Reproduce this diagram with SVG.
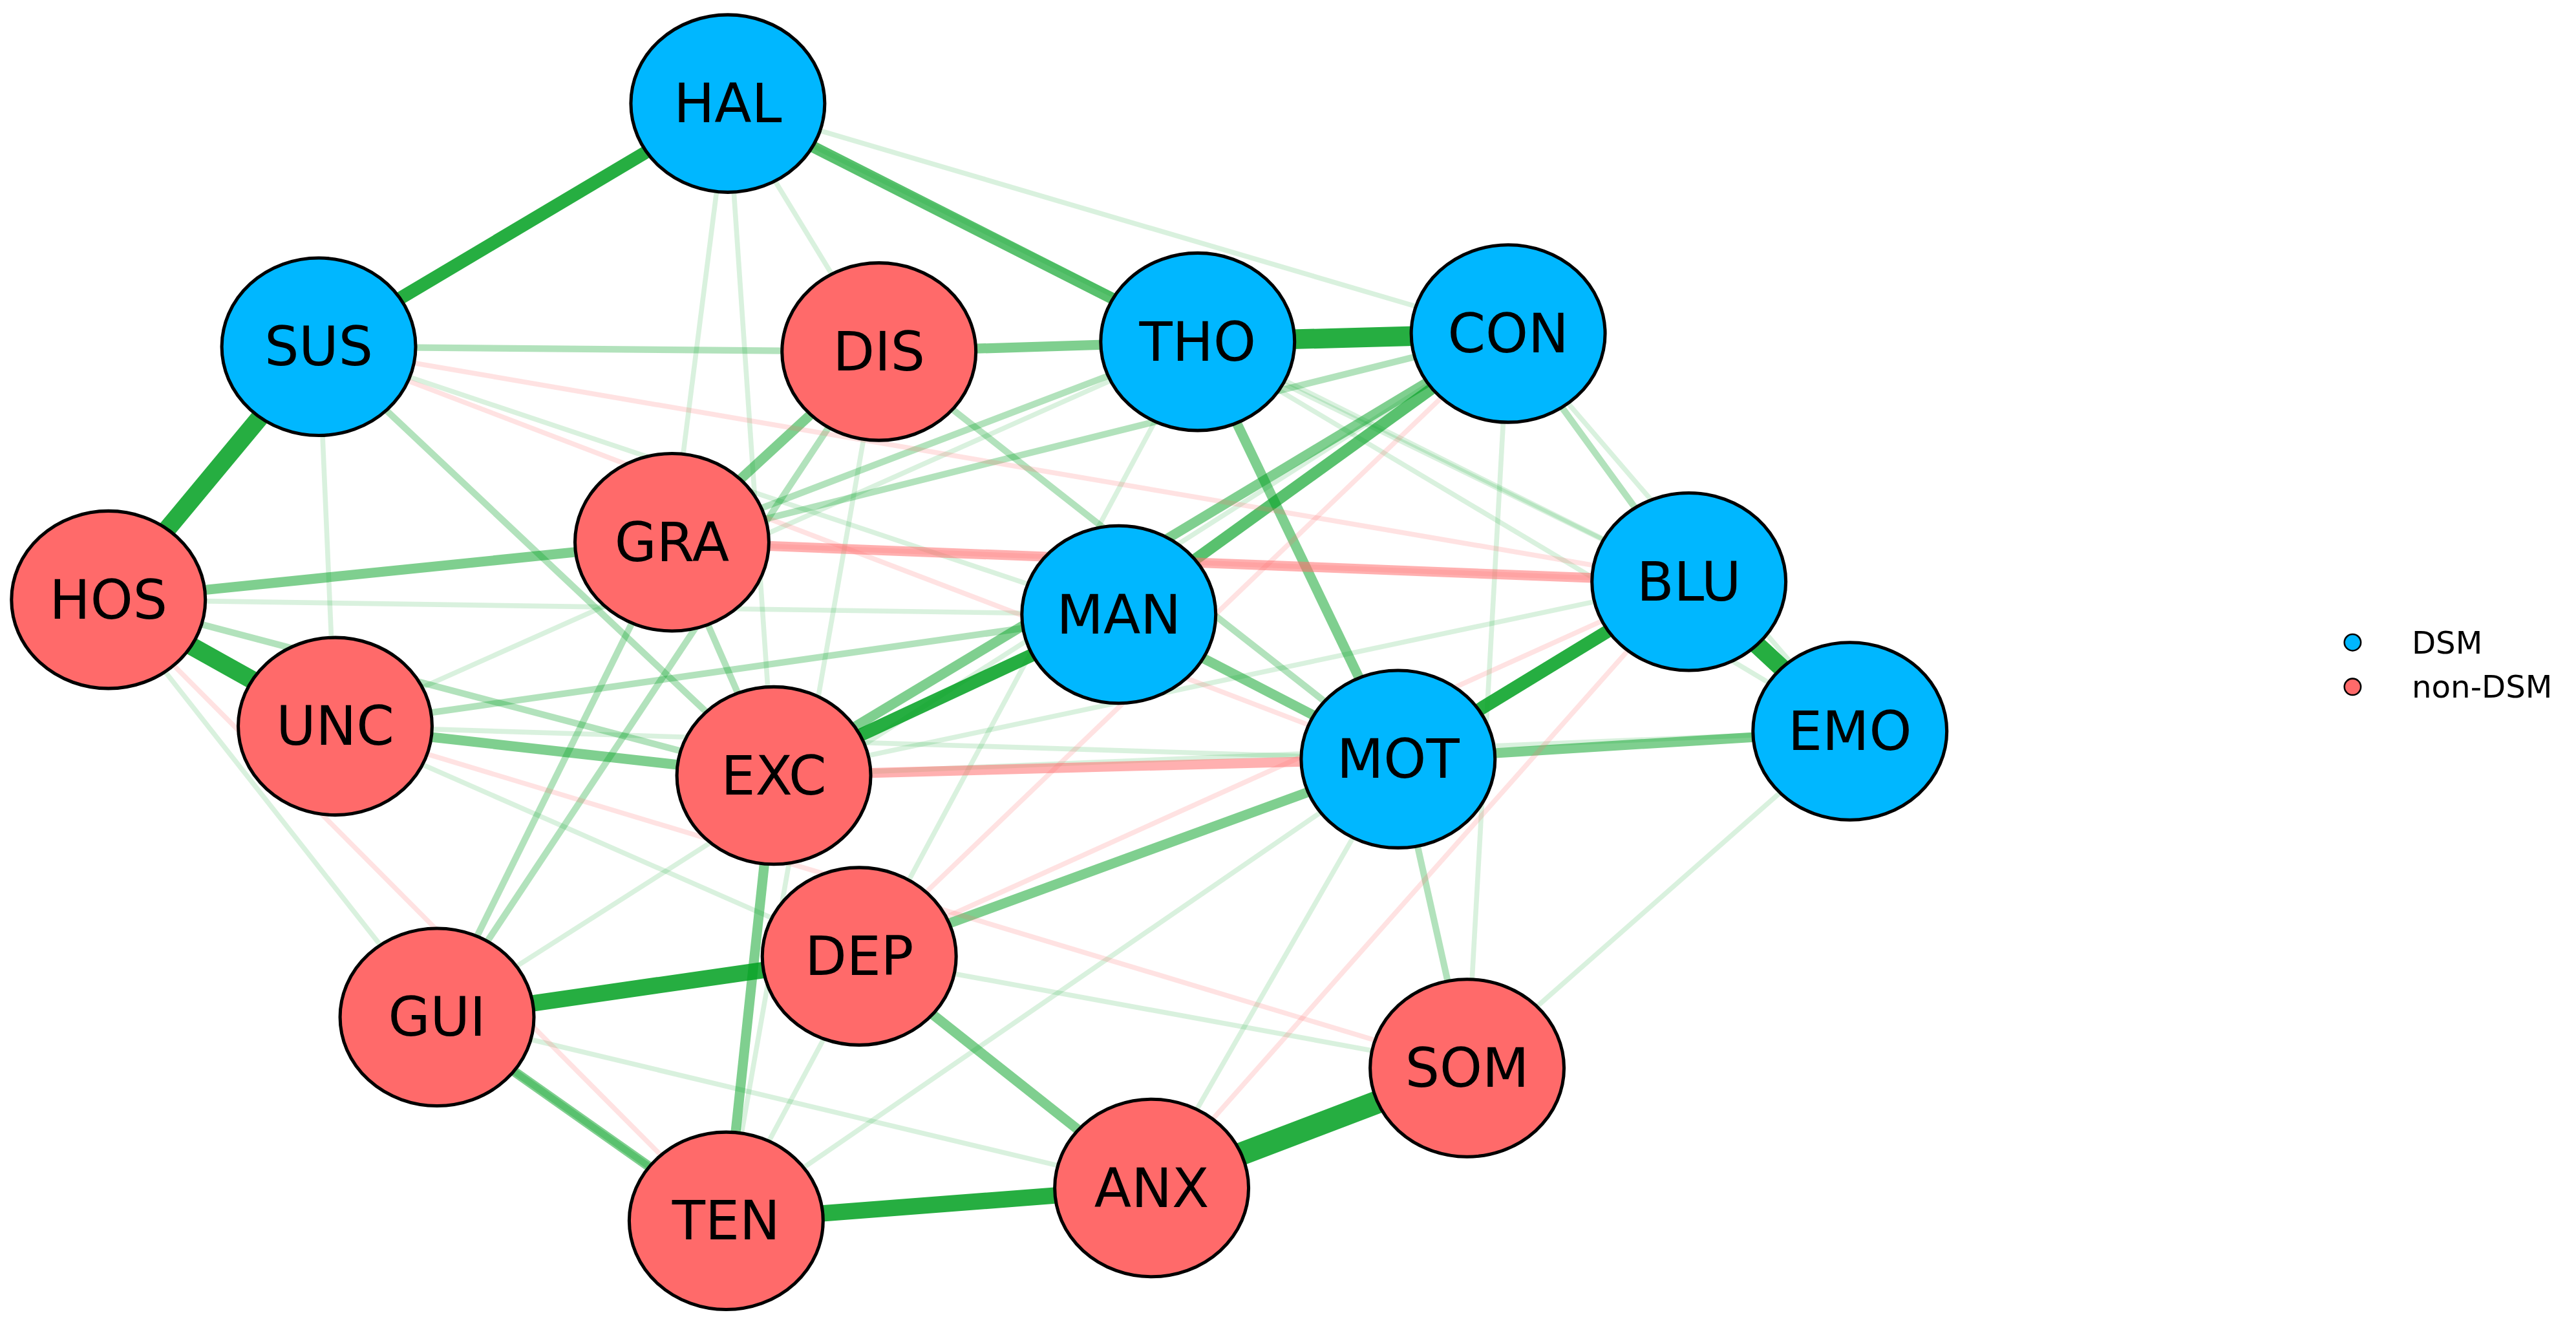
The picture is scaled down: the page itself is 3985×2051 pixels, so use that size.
<svg xmlns="http://www.w3.org/2000/svg" width="3985" height="2051" viewBox="0 0 3985 2051">
<style>
.g{stroke:#00a020;fill:none;stroke-linecap:butt}
.r{stroke:#ff7070;fill:none}
.dsm{fill:#00b7ff;stroke:#000;stroke-width:2}
.non{fill:#ff6a6a;stroke:#000;stroke-width:2}
.lbl{font-family:"DejaVu Sans","Noto Sans",sans-serif;font-size:33px;text-anchor:middle;dominant-baseline:central;fill:#000}
.leg{font-family:"DejaVu Sans","Noto Sans",sans-serif;font-size:19px;fill:#000;dominant-baseline:central}
</style>
<rect width="3985" height="2051" fill="#fff"/>
<g transform="scale(2.5415)">
<g id="edges">
<g class="g" stroke-opacity="0.15" stroke-width="3">
<line x1="443" y1="63" x2="918" y2="203"/><line x1="443" y1="63" x2="1028" y2="354"/><line x1="443" y1="63" x2="409" y2="330"/><line x1="443" y1="63" x2="471" y2="472"/><line x1="443" y1="63" x2="535" y2="214"/>
<line x1="194" y1="211" x2="204" y2="442"/><line x1="194" y1="211" x2="681" y2="374"/><line x1="66" y1="365" x2="681" y2="374"/><line x1="66" y1="365" x2="266" y2="619"/><line x1="204" y1="442" x2="851" y2="462"/><line x1="204" y1="442" x2="523" y2="582"/>
<line x1="918" y1="203" x2="1126" y2="445"/><line x1="918" y1="203" x2="893" y2="650"/><line x1="729" y1="208" x2="1028" y2="354"/><line x1="729" y1="208" x2="1126" y2="445"/><line x1="1126" y1="445" x2="893" y2="650"/><line x1="1126" y1="445" x2="471" y2="472"/>
<line x1="266" y1="619" x2="701" y2="723"/><line x1="442" y1="743" x2="729" y2="208"/><line x1="442" y1="743" x2="851" y2="462"/><line x1="701" y1="723" x2="851" y2="462"/><line x1="523" y1="582" x2="893" y2="650"/><line x1="266" y1="619" x2="918" y2="203"/><line x1="204" y1="442" x2="729" y2="208"/><line x1="471" y1="472" x2="1028" y2="354"/><line x1="535" y1="214" x2="442" y2="743"/>
</g>
<g class="g" stroke-opacity="0.3" stroke-width="4">
<line x1="194" y1="211" x2="535" y2="214"/><line x1="535" y1="214" x2="851" y2="462"/><line x1="918" y1="203" x2="1028" y2="354"/><line x1="194" y1="211" x2="471" y2="472"/><line x1="409" y1="330" x2="266" y2="619"/><line x1="409" y1="330" x2="471" y2="472"/><line x1="204" y1="442" x2="681" y2="374"/><line x1="66" y1="365" x2="471" y2="472"/><line x1="409" y1="330" x2="729" y2="208"/><line x1="851" y1="462" x2="893" y2="650"/><line x1="266" y1="619" x2="442" y2="743"/><line x1="409" y1="330" x2="918" y2="203"/><line x1="266" y1="619" x2="535" y2="214"/>
</g>
<g class="g" stroke-opacity="0.5" stroke-width="6">
<line x1="535" y1="214" x2="729" y2="208"/><line x1="535" y1="214" x2="409" y2="330"/><line x1="729" y1="208" x2="851" y2="462"/><line x1="681" y1="374" x2="851" y2="462"/><line x1="471" y1="472" x2="918" y2="203"/><line x1="204" y1="442" x2="471" y2="472"/><line x1="66" y1="365" x2="409" y2="330"/><line x1="471" y1="472" x2="442" y2="743"/><line x1="851" y1="462" x2="1126" y2="445"/><line x1="851" y1="462" x2="523" y2="582"/><line x1="266" y1="619" x2="442" y2="743"/><line x1="523" y1="582" x2="701" y2="723"/>
</g>
<g class="g" stroke-opacity="0.65" stroke-width="7">
<line x1="681" y1="374" x2="918" y2="203"/><line x1="443" y1="63" x2="729" y2="208"/>
</g>
<g class="g" stroke-opacity="0.85">
<line x1="443" y1="63" x2="194" y2="211" stroke-width="8"/><line x1="471" y1="472" x2="681" y2="374" stroke-width="8"/><line x1="851" y1="462" x2="1028" y2="354" stroke-width="8"/><line x1="266" y1="619" x2="523" y2="582" stroke-width="10"/><line x1="442" y1="743" x2="701" y2="723" stroke-width="10"/>
<line x1="194" y1="211" x2="66" y2="365" stroke-width="11"/><line x1="66" y1="365" x2="204" y2="442" stroke-width="11"/><line x1="1028" y1="354" x2="1126" y2="445" stroke-width="11"/>
<line x1="729" y1="208" x2="918" y2="203" stroke-width="12"/><line x1="701" y1="723" x2="893" y2="650" stroke-width="14"/>
</g>
<g class="r" stroke-opacity="0.2" stroke-width="3">
<line x1="194" y1="211" x2="1028" y2="354"/><line x1="194" y1="211" x2="851" y2="462"/><line x1="918" y1="203" x2="523" y2="582"/><line x1="1028" y1="354" x2="701" y2="723"/><line x1="66" y1="365" x2="442" y2="743"/><line x1="204" y1="442" x2="893" y2="650"/><line x1="409" y1="330" x2="1028" y2="354"/><line x1="1028" y1="354" x2="523" y2="582"/>
</g>
<g class="r" stroke-opacity="0.55" stroke-width="6">
<line x1="409" y1="330" x2="1028" y2="354"/><line x1="471" y1="472" x2="851" y2="462"/>
</g>
</g>
<g id="HAL"><ellipse class="dsm" cx="443" cy="63" rx="59" ry="54"/><text class="lbl" x="443" y="63">HAL</text></g>
<g id="SUS"><ellipse class="dsm" cx="194" cy="211" rx="59" ry="54"/><text class="lbl" x="194" y="211">SUS</text></g>
<g id="DIS"><ellipse class="non" cx="535" cy="214" rx="59" ry="54"/><text class="lbl" x="535" y="214">DIS</text></g>
<g id="THO"><ellipse class="dsm" cx="729" cy="208" rx="59" ry="54"/><text class="lbl" x="729" y="208">THO</text></g>
<g id="CON"><ellipse class="dsm" cx="918" cy="203" rx="59" ry="54"/><text class="lbl" x="918" y="203">CON</text></g>
<g id="HOS"><ellipse class="non" cx="66" cy="365" rx="59" ry="54"/><text class="lbl" x="66" y="365">HOS</text></g>
<g id="GRA"><ellipse class="non" cx="409" cy="330" rx="59" ry="54"/><text class="lbl" x="409" y="330">GRA</text></g>
<g id="MAN"><ellipse class="dsm" cx="681" cy="374" rx="59" ry="54"/><text class="lbl" x="681" y="374">MAN</text></g>
<g id="BLU"><ellipse class="dsm" cx="1028" cy="354" rx="59" ry="54"/><text class="lbl" x="1028" y="354">BLU</text></g>
<g id="EMO"><ellipse class="dsm" cx="1126" cy="445" rx="59" ry="54"/><text class="lbl" x="1126" y="445">EMO</text></g>
<g id="UNC"><ellipse class="non" cx="204" cy="442" rx="59" ry="54"/><text class="lbl" x="204" y="442">UNC</text></g>
<g id="EXC"><ellipse class="non" cx="471" cy="472" rx="59" ry="54"/><text class="lbl" x="471" y="472">EXC</text></g>
<g id="MOT"><ellipse class="dsm" cx="851" cy="462" rx="59" ry="54"/><text class="lbl" x="851" y="462">MOT</text></g>
<g id="DEP"><ellipse class="non" cx="523" cy="582" rx="59" ry="54"/><text class="lbl" x="523" y="582">DEP</text></g>
<g id="GUI"><ellipse class="non" cx="266" cy="619" rx="59" ry="54"/><text class="lbl" x="266" y="619">GUI</text></g>
<g id="SOM"><ellipse class="non" cx="893" cy="650" rx="59" ry="54"/><text class="lbl" x="893" y="650">SOM</text></g>
<g id="ANX"><ellipse class="non" cx="701" cy="723" rx="59" ry="54"/><text class="lbl" x="701" y="723">ANX</text></g>
<g id="TEN"><ellipse class="non" cx="442" cy="743" rx="59" ry="54"/><text class="lbl" x="442" y="743">TEN</text></g>
<g id="legend">
<circle cx="1432" cy="391" r="5" fill="#00b7ff" stroke="#000" stroke-width="1"/><text class="leg" x="1468" y="391">DSM</text>
<circle cx="1432" cy="418" r="5" fill="#ff6a6a" stroke="#000" stroke-width="1"/><text class="leg" x="1468" y="418">non-DSM</text>
</g>
</g>
</svg>
